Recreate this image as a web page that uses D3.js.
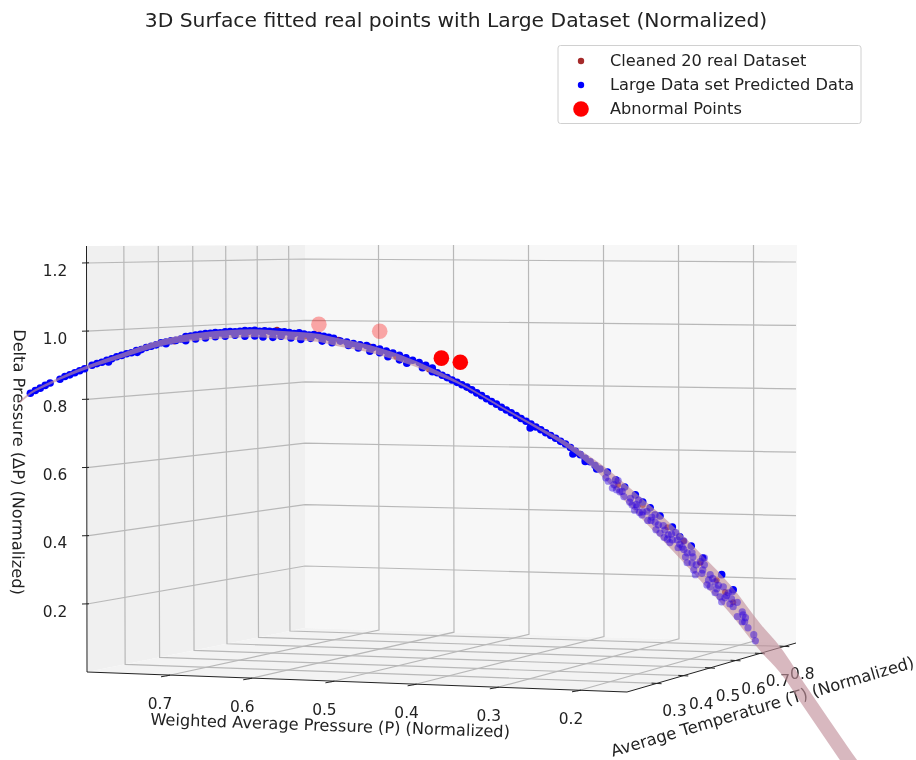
<!DOCTYPE html>
<html>
<head>
<meta charset="utf-8">
<script src="https://cdnjs.cloudflare.com/ajax/libs/d3/7.8.5/d3.min.js"></script>
<style>
  body { margin: 0; background: #fff; }
  svg { display: block; filter: blur(0.4px); }
  text { font-family: "DejaVu Sans", sans-serif; fill: #222; }
</style>
</head>
<body>
<svg width="916" height="760"></svg>
<script>
var pTicks = [0.7, 0.6, 0.5, 0.4, 0.3, 0.2];
var tTicks = [0.3, 0.4, 0.5, 0.6, 0.7, 0.8];
var zTicks = [0.2, 0.4, 0.6, 0.8, 1.0, 1.2];

// fitted surface, seen nearly edge on, so one curve with a thickness
var surfP = [0.878, 0.865, 0.841, 0.795, 0.752, 0.707, 0.667, 0.626, 0.594, 0.553, 0.513, 0.497, 0.455, 0.415, 0.375, 0.334, 0.294, 0.254, 0.212, 0.172, 0.132, 0.090, 0.050, 0.010, -0.023, -0.047, -0.080, -0.128, -0.147];
var surfZ = [0.792, 0.818, 0.848, 0.895, 0.930, 0.965, 0.982, 0.991, 0.994, 0.988, 0.980, 0.971, 0.950, 0.921, 0.883, 0.836, 0.780, 0.725, 0.666, 0.596, 0.505, 0.408, 0.309, 0.204, 0.102, 0.037, -0.081, -0.250, -0.315];
var surfSpread = [0.0035, 0.0035, 0.004, 0.005, 0.007, 0.009, 0.011, 0.012, 0.012, 0.012, 0.012, 0.012, 0.011, 0.010, 0.007, 0.003, 0.003, 0.004, 0.008, 0.016, 0.028, 0.036, 0.040, 0.042, 0.040, 0.038, 0.036, 0.036, 0.036];

// 20 real points, nearly all hidden under the predicted ones
var realP = [0.565, 0.452, 0.690, 0.640, 0.600, 0.530, 0.490, 0.420, 0.380, 0.330, 0.270, 0.200, 0.150, 0.120, 0.090, 0.070, 0.050, 0.030, 0.020, 0.010];
var realZ = [1.004, 0.955, 0.970, 0.992, 0.997, 0.985, 0.975, 0.925, 0.888, 0.830, 0.747, 0.642, 0.550, 0.490, 0.425, 0.385, 0.320, 0.270, 0.235, 0.205];

var predP = [0.865, 0.859, 0.853, 0.847, 0.841,
  0.829, 0.823, 0.817, 0.811, 0.805, 0.799,
  0.790, 0.784, 0.778, 0.772, 0.766, 0.760, 0.754, 0.748, 0.742, 0.736, 0.730, 0.724, 0.718, 0.712, 0.706, 0.700, 0.694, 0.688, 0.682, 0.770, 0.735, 0.700,
  0.676, 0.670, 0.664, 0.658, 0.652, 0.646, 0.640, 0.634, 0.628, 0.622, 0.616, 0.610, 0.604, 0.598, 0.592, 0.586, 0.580, 0.574, 0.568, 0.562, 0.556, 0.550, 0.544, 0.538, 0.532, 0.526, 0.520, 0.514, 0.508, 0.502, 0.496,
  0.676, 0.664, 0.652, 0.640, 0.628, 0.616, 0.604, 0.592, 0.582, 0.570, 0.560, 0.548, 0.536, 0.524, 0.510, 0.498,
  0.488, 0.480, 0.472, 0.464, 0.456, 0.448, 0.440, 0.432, 0.424, 0.416, 0.408, 0.400, 0.392, 0.384, 0.376,
  0.478, 0.466, 0.452, 0.440, 0.430, 0.416, 0.407, 0.388, 0.376,
  0.370, 0.364, 0.358, 0.352, 0.346, 0.340, 0.334, 0.328, 0.322, 0.316, 0.310, 0.304, 0.298, 0.292, 0.286, 0.280, 0.274, 0.268, 0.262, 0.256, 0.250, 0.244, 0.238, 0.232, 0.226, 0.220, 0.214, 0.208, 0.202, 0.196, 0.190, 0.184, 0.178, 0.172,
  0.257, 0.205, 0.190, 0.176,
  0.163, 0.153, 0.142, 0.129, 0.120, 0.111, 0.099, 0.084, 0.075, 0.061, 0.047, 0.024, 0.010];
var predZ = [0.818, 0.826, 0.833, 0.841, 0.848,
  0.859, 0.867, 0.872, 0.878, 0.884, 0.890,
  0.900, 0.905, 0.909, 0.915, 0.919, 0.925, 0.929, 0.934, 0.937, 0.943, 0.946, 0.952, 0.956, 0.960, 0.966, 0.968, 0.972, 0.973, 0.977, 0.910, 0.938, 0.963,
  0.984, 0.986, 0.989, 0.991, 0.993, 0.994, 0.996, 0.995, 0.998, 0.999, 0.998, 1.000, 1.002, 1.001, 1.003, 1.000, 1.001, 1.000, 0.999, 0.998, 0.998, 0.996, 0.993, 0.995, 0.992, 0.989, 0.990, 0.987, 0.985, 0.982, 0.979,
  0.972, 0.977, 0.980, 0.984, 0.985, 0.988, 0.985, 0.986, 0.983, 0.982, 0.985, 0.980, 0.976, 0.979, 0.971, 0.966,
  0.971, 0.968, 0.964, 0.960, 0.958, 0.952, 0.948, 0.942, 0.936, 0.929, 0.922, 0.915, 0.908, 0.900, 0.892,
  0.958, 0.951, 0.941, 0.937, 0.925, 0.916, 0.906, 0.893, 0.881,
  0.878, 0.871, 0.864, 0.857, 0.850, 0.843, 0.836, 0.828, 0.819, 0.811, 0.802, 0.794, 0.786, 0.777, 0.769, 0.761, 0.753, 0.744, 0.736, 0.728, 0.719, 0.711, 0.702, 0.694, 0.686, 0.677, 0.669, 0.659, 0.648, 0.638, 0.627, 0.617, 0.606, 0.596,
  0.716, 0.640, 0.618, 0.596,
  0.587, 0.564, 0.543, 0.520, 0.499, 0.482, 0.458, 0.426, 0.397, 0.370, 0.335, 0.286, 0.242];

// predicted points at the low end, these sit on the near side of the surface
var tailP = [0.157, 0.121, 0.099, 0.084, 0.066, 0.056, 0.042, 0.032, 0.024, 0.010, -0.001, 0.005, -0.002, -0.001, -0.008, -0.015, -0.017, 0.148, 0.136, 0.127, 0.120, 0.109, 0.101, 0.093, 0.089, 0.078, 0.072, 0.066, 0.059, 0.050, 0.047, 0.038, 0.032, 0.022, 0.016, 0.026, 0.038, 0.020, 0.011, -0.004,
  0.165, 0.155, 0.145, 0.135, 0.128, 0.115, 0.105, 0.095, 0.085, 0.080, 0.070, 0.060, 0.055, 0.045, 0.035, 0.028, 0.018, 0.012, 0.005, -0.005, 0.060, 0.075, 0.090, 0.110, 0.130,
  0.162, 0.152, 0.143, 0.133, 0.124, 0.114, 0.104, 0.094, 0.087, 0.077, 0.068, 0.058, 0.048, 0.040, 0.030, 0.014, 0.150, 0.125, 0.105, 0.070, 0.045];
var tailZ = [0.540, 0.461, 0.408, 0.388, 0.321, 0.286, 0.256, 0.233, 0.206, 0.192, 0.177, 0.163, 0.168, 0.148, 0.130, 0.110, 0.092, 0.529, 0.499, 0.485, 0.470, 0.455, 0.432, 0.417, 0.403, 0.388, 0.367, 0.350, 0.338, 0.324, 0.300, 0.286, 0.265, 0.250, 0.233, 0.221, 0.250, 0.218, 0.236, 0.148,
  0.570, 0.550, 0.530, 0.510, 0.492, 0.472, 0.440, 0.430, 0.405, 0.410, 0.360, 0.350, 0.315, 0.315, 0.275, 0.255, 0.225, 0.215, 0.205, 0.160, 0.320, 0.375, 0.390, 0.445, 0.475,
  0.560, 0.535, 0.515, 0.490, 0.468, 0.445, 0.418, 0.395, 0.380, 0.365, 0.338, 0.300, 0.290, 0.270, 0.245, 0.200, 0.562, 0.505, 0.462, 0.385, 0.335];

var abnormalP = [0.365, 0.342, 0.514, 0.440];
var abnormalZ = [0.921, 0.909, 1.020, 1.000];
var abnormalFar = [false, false, true, true];

var legendLabels = ["Cleaned 20 real Dataset", "Large Data set Predicted Data", "Abnormal Points"];

var svg = d3.select("svg");

// corners of the box on screen
var frontLeft = [87, 672], frontRight = [627, 692], backCorner = [305, 628], backRight = [796, 643];
var topFront = [86.5, 246], topBack = [305, 245], topRight = [797, 245];

var xData = d3.scaleLinear().domain([0.7, 0.2]).range([166, 577]);
var yData = d3.scaleLinear().domain([0.2, 1.2]).range([604, 263]);

var yZmid = d3.scaleLinear().domain([0.2, 1.2]).range([566, 259]);
var yZright = d3.scaleLinear().domain([0.2, 1.2]).range([579, 262]);
var yPfront = d3.scaleLinear().domain([0.7, 0.2]).range([676, 691]);
var xPback = d3.scaleLinear().domain([0.7, 0.2]).range([379, 754]);
var yPback = d3.scaleLinear().domain([0.7, 0.2]).range([630, 641]);
var tFrac = d3.scaleLinear().domain([0.3, 0.55, 0.8]).range([0.175, 0.57, 0.931]);

function lerp(a, b, f) { return [a[0] + (b[0] - a[0]) * f, a[1] + (b[1] - a[1]) * f]; }
function pts(a) { return a.map(function(p) { return p.join(","); }).join(" "); }

// panes
svg.append("polygon").attr("points", pts([frontLeft, topFront, topBack, backCorner])).attr("fill", "#f0f0f0");
svg.append("polygon").attr("points", pts([backCorner, topBack, topRight, backRight])).attr("fill", "#f7f7f7");
svg.append("polygon").attr("points", pts([frontLeft, frontRight, backRight, backCorner])).attr("fill", "#f3f3f3");

var grid = svg.append("g").attr("fill", "none").attr("stroke", "#b8b8b8").attr("stroke-width", 1.2);

zTicks.forEach(function(z) {
  grid.append("polyline").attr("points", pts([[frontLeft[0], yData(z)], [backCorner[0], yZmid(z)], [backRight[0], yZright(z)]]));
});
pTicks.forEach(function(p) {
  var front = [xData(p), yPfront(p)], back = [xPback(p), yPback(p)];
  grid.append("polyline").attr("points", pts([front, back, [xPback(p) - 0.5, topBack[1]]]));
});
tTicks.forEach(function(t) {
  var f = tFrac(t);
  var left = lerp(frontLeft, backCorner, f), right = lerp(frontRight, backRight, f);
  grid.append("polyline").attr("points", pts([right, left, [left[0] - 1.3, topFront[1]]]));
});

// axis lines and ticks
var axes = svg.append("g").attr("stroke", "#222").attr("fill", "none").attr("stroke-width", 1);
axes.append("polyline").attr("points", pts([topFront, frontLeft, frontRight, backRight]));

zTicks.forEach(function(z) {
  axes.append("line").attr("x1", 82).attr("x2", 89).attr("y1", yData(z)).attr("y2", yData(z) - 0.2);
});
pTicks.forEach(function(p) {
  axes.append("line")
    .attr("x1", xData(p) - 5).attr("y1", yPfront(p) + 0.8)
    .attr("x2", xData(p) + 4).attr("y2", yPfront(p) - 0.8);
});
tTicks.forEach(function(t) {
  var r = lerp(frontRight, backRight, tFrac(t));
  axes.append("line").attr("x1", r[0] - 5).attr("y1", r[1] - 0.3).attr("x2", r[0] + 5).attr("y2", r[1] + 0.3);
});

// tick labels
var fmt = d3.format(".1f");
var labels = svg.append("g").attr("font-size", 15.4).attr("text-anchor", "middle");

zTicks.forEach(function(z) {
  labels.append("text").attr("x", 55).attr("y", yData(z) + 12.5).text(fmt(z));
});
pTicks.forEach(function(p) {
  labels.append("text").attr("x", xData(p) - 6).attr("y", yPfront(p) + 33).text(fmt(p));
});
tTicks.forEach(function(t) {
  var r = lerp(frontRight, backRight, tFrac(t));
  labels.append("text").attr("x", r[0] + 18).attr("y", r[1] + 33).text(fmt(t));
});

// axis titles
svg.append("text")
  .attr("transform", "translate(330,731) rotate(2)")
  .attr("text-anchor", "middle").attr("font-size", 16.2)
  .text("Weighted Average Pressure (P) (Normalized)");
svg.append("text")
  .attr("transform", "translate(764,712) rotate(-16.5)")
  .attr("text-anchor", "middle").attr("font-size", 16.4)
  .text("Average Temperature (T) (Normalized)");
svg.append("text")
  .attr("transform", "translate(13,462) rotate(90.4)")
  .attr("text-anchor", "middle").attr("font-size", 16.2)
  .text("Delta Pressure (ΔP) (Normalized)");

// points behind the surface
var plot = svg.append("g");

plot.append("g").selectAll("circle")
  .data(d3.range(realP.length))
  .enter().append("circle")
    .attr("cx", function(i) { return xData(realP[i]); })
    .attr("cy", function(i) { return yData(realZ[i]); })
    .attr("r", 3)
    .attr("fill", "#a52a2a");

plot.append("g").selectAll("circle")
  .data(d3.range(predP.length))
  .enter().append("circle")
    .attr("cx", function(i) { return xData(predP[i]); })
    .attr("cy", function(i) { return yData(predZ[i]); })
    .attr("r", 3.8)
    .attr("fill", "#0000ff");

var surface = d3.area()
  .x(function(i) { return xData(surfP[i]); })
  .y0(function(i) { return yData(surfZ[i] - surfSpread[i]); })
  .y1(function(i) { return yData(surfZ[i] + surfSpread[i]); })
  .curve(d3.curveMonotoneX);

plot.append("path")
  .attr("d", surface(d3.range(surfP.length)))
  .attr("fill", "rgb(194,143,154)")
  .attr("fill-opacity", 0.635);

plot.append("g").selectAll("circle")
  .data(d3.range(tailP.length))
  .enter().append("circle")
    .attr("cx", function(i) { return xData(tailP[i]); })
    .attr("cy", function(i) { return yData(tailZ[i]); })
    .attr("r", 3.6)
    .attr("fill", "#2a00e0")
    .attr("fill-opacity", 0.45);

plot.append("g").selectAll("circle")
  .data(d3.range(abnormalP.length))
  .enter().append("circle")
    .attr("cx", function(i) { return xData(abnormalP[i]); })
    .attr("cy", function(i) { return yData(abnormalZ[i]); })
    .attr("r", 7.8)
    .attr("fill", "#ff0000")
    .attr("opacity", function(i) { return abnormalFar[i] ? 0.33 : 1; });

// title
svg.append("text")
  .attr("x", 456).attr("y", 27)
  .attr("text-anchor", "middle").attr("font-size", 20.3)
  .text("3D Surface fitted real points with Large Dataset (Normalized)");

// legend
var legend = svg.append("g");
legend.append("rect")
  .attr("x", 558).attr("y", 45.5).attr("width", 303).attr("height", 78)
  .attr("rx", 2.5)
  .attr("fill", "#fff").attr("stroke", "#d0d0d0");

var legendColor = ["#a52a2a", "#0000ff", "#ff0000"];
var legendR = [3.2, 3.2, 7.8];
var legendY = d3.scalePoint().domain(legendLabels).range([61, 109]);

legendLabels.forEach(function(name, i) {
  legend.append("circle")
    .attr("cx", 581).attr("cy", legendY(name))
    .attr("r", legendR[i]).attr("fill", legendColor[i]);
  legend.append("text")
    .attr("x", 610).attr("y", legendY(name) + 4.5)
    .attr("font-size", 16.2)
    .text(name);
});
</script>
</body>
</html>
